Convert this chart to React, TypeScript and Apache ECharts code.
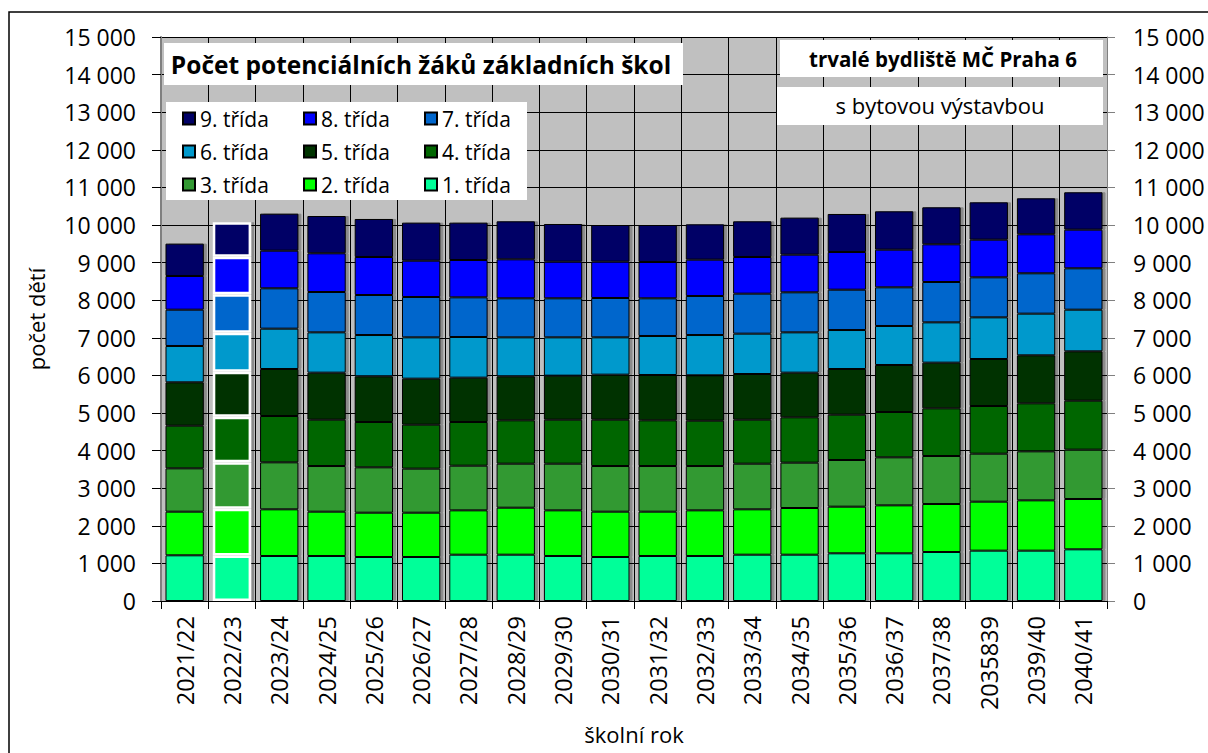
import React, { useEffect, useRef } from "react";
import * as echarts from "echarts";

const categories = [
  "2021/22", "2022/23", "2023/24", "2024/25", "2025/26", "2026/27", "2027/28",
  "2028/29", "2029/30", "2030/31", "2031/32", "2032/33", "2033/34", "2034/35",
  "2035/36", "2036/37", "2037/38", "2035839", "2039/40", "2040/41",
];

const trida1 = [1215, 1210, 1197, 1197, 1170, 1170, 1232, 1232, 1197, 1170, 1197, 1197, 1232, 1232, 1268, 1268, 1303, 1339, 1339, 1374];
const trida2 = [1161, 1241, 1241, 1179, 1179, 1179, 1179, 1250, 1214, 1206, 1179, 1214, 1206, 1241, 1241, 1276, 1277, 1303, 1338, 1339];
const trida3 = [1152, 1241, 1250, 1214, 1206, 1171, 1188, 1170, 1241, 1214, 1214, 1179, 1214, 1206, 1241, 1277, 1276, 1276, 1303, 1312];
const trida4 = [1135, 1205, 1232, 1233, 1206, 1170, 1162, 1153, 1171, 1233, 1215, 1206, 1171, 1206, 1206, 1206, 1268, 1268, 1277, 1303];
const trida5 = [1153, 1197, 1250, 1250, 1214, 1223, 1179, 1170, 1170, 1197, 1206, 1206, 1214, 1188, 1214, 1250, 1215, 1250, 1277, 1312];
const trida6 = [966, 1038, 1073, 1072, 1099, 1099, 1081, 1037, 1019, 992, 1037, 1072, 1073, 1072, 1037, 1037, 1072, 1108, 1108, 1108];
const trida7 = [966, 1028, 1073, 1073, 1064, 1073, 1055, 1038, 1038, 1047, 1002, 1038, 1064, 1064, 1073, 1028, 1073, 1064, 1073, 1100];
const trida8 = [896, 993, 1001, 1029, 1011, 966, 993, 1037, 975, 966, 966, 966, 975, 1002, 1002, 1002, 1002, 1002, 1037, 1028];
const trida9 = [860, 922, 984, 992, 1011, 1011, 993, 1011, 1002, 975, 984, 940, 949, 984, 1011, 1020, 984, 993, 958, 994];

const seriesNames = ["1. třída", "2. třída", "3. třída", "4. třída", "5. třída", "6. třída", "7. třída", "8. třída", "9. třída"];
const seriesValues = [trida1, trida2, trida3, trida4, trida5, trida6, trida7, trida8, trida9];
const seriesColors = ["#00FF99", "#00FF00", "#339933", "#006600", "#003300", "#0099CC", "#0066CC", "#0000FF", "#000066"];

const yTicks = { min: 0, max: 15000, interval: 1000 };
const highlightedIndex = 1;

const titleText = "Počet potenciálních žáků základních škol";
const boxText1 = "trvalé bydliště MČ Praha 6";
const boxText2 = "s bytovou výstavbou";
const yName = "počet dětí";
const xName = "školní rok";

const FONT = "'Open Sans', 'Noto Sans', sans-serif";

const fmt = (v: number) => {
  const s = String(v);
  return s.length > 3 ? s.slice(0, s.length - 3) + " " + s.slice(s.length - 3) : s;
};

export default function App() {
  const ref = useRef<HTMLDivElement>(null);
  useEffect(() => {
    document.body.style.margin = "0";
    const chart = echarts.init(ref.current!, undefined, { renderer: "svg" });
    const series = seriesNames.map((name, i) => ({
      name,
      type: "bar",
      stack: "total",
      barCategoryGap: "19%",
      z: 2,
      itemStyle: {
        color: seriesColors[i],
        borderColor: "#000",
        borderWidth: 1,
        shadowColor: "rgba(0,0,0,0.28)",
        shadowOffsetX: 3,
        shadowOffsetY: 0,
        shadowBlur: 1,
      },
      emphasis: { disabled: true },
      data: seriesValues[i].map((v, j) =>
        j === highlightedIndex
          ? { value: v, itemStyle: { borderColor: "#fff", borderWidth: 2.5 } }
          : v
      ),
    }));
    const legendCommon = {
      orient: "vertical",
      padding: 0,
      itemGap: 10,
      itemWidth: 12,
      itemHeight: 12,
      icon: "rect",
      selectedMode: false,
      z: 20,
      textStyle: { fontFamily: FONT, fontSize: 21, color: "#000", lineHeight: 23 },
    };
    const axisLabelStyle = { fontFamily: FONT, fontSize: 23, color: "#000" };
    chart.setOption({
      animation: false,
      backgroundColor: "#fff",
      grid: {
        left: 161, right: 101, top: 37, bottom: 152,
        show: true, backgroundColor: "#C0C0C0", borderWidth: 0,
        containLabel: false, outerBoundsMode: "none",
      },
      legend: [
        { ...legendCommon, left: 182, top: 107, data: ["9. třída", "6. třída", "3. třída"] },
        { ...legendCommon, left: 303, top: 107, data: ["8. třída", "5. třída", "2. třída"] },
        { ...legendCommon, left: 424, top: 107, data: ["7. třída", "4. třída", "1. třída"] },
      ],
      xAxis: {
        type: "category",
        data: categories,
        name: xName,
        nameLocation: "middle",
        nameGap: 122,
        nameTextStyle: { fontFamily: FONT, fontSize: 22, color: "#000" },
        axisLine: { lineStyle: { color: "#000", width: 1 } },
        axisTick: { show: true, length: 8, lineStyle: { color: "#000" } },
        axisLabel: { ...axisLabelStyle, fontSize: 23.5, rotate: 90, margin: 15, interval: 0 },
        splitLine: { show: true, interval: 0, lineStyle: { color: "#000", width: 1 } },
      },
      yAxis: [
        {
          type: "value",
          ...yTicks,
          name: yName,
          nameLocation: "middle",
          nameGap: 114,
          nameTextStyle: { fontFamily: FONT, fontSize: 22, color: "#000" },
          axisLine: { show: true, lineStyle: { color: "#808080", width: 2 } },
          axisTick: { show: true, length: 9, lineStyle: { color: "#000" } },
          axisLabel: { ...axisLabelStyle, margin: 25, formatter: fmt },
          splitLine: { show: true, lineStyle: { color: "#000", width: 1 } },
        },
        {
          type: "value",
          position: "right",
          ...yTicks,
          axisLine: { show: true, lineStyle: { color: "#808080", width: 1 } },
          axisTick: { show: true, length: 8, lineStyle: { color: "#808080" } },
          axisLabel: { ...axisLabelStyle, margin: 26, formatter: fmt },
          splitLine: { show: false },
        },
      ],
      series,
      graphic: [
        {
          type: "rect",
          shape: { x: 9, y: 12, width: 1400, height: 900 },
          style: { fill: "none", stroke: "#000", lineWidth: 1.5 },
          z: 100,
          silent: true,
        },
        {
          type: "rect",
          shape: { x: 164, y: 43, width: 519, height: 42 },
          style: { fill: "#fff" },
          z: 5,
        },
        {
          type: "text",
          x: 421,
          y: 64,
          style: { text: titleText, fontFamily: FONT, fontSize: 24.5, fontWeight: "bold", fill: "#000", align: "center", verticalAlign: "middle" },
          z: 6,
        },
        {
          type: "rect",
          shape: { x: 166, y: 102, width: 361, height: 98 },
          style: { fill: "#fff" },
          z: 5,
        },
        {
          type: "rect",
          shape: { x: 780, y: 40, width: 323, height: 37 },
          style: { fill: "#fff" },
          z: 5,
        },
        {
          type: "text",
          x: 943,
          y: 59,
          style: { text: boxText1, fontFamily: FONT, fontSize: 20.5, fontWeight: "bold", fill: "#000", align: "center", verticalAlign: "middle" },
          z: 6,
        },
        {
          type: "rect",
          shape: { x: 777, y: 87, width: 326, height: 38 },
          style: { fill: "#fff" },
          z: 5,
        },
        {
          type: "text",
          x: 940,
          y: 105,
          style: { text: boxText2, fontFamily: FONT, fontSize: 22, fill: "#000", align: "center", verticalAlign: "middle" },
          z: 6,
        },
      ],
    });
    return () => chart.dispose();
  }, []);
  return <div ref={ref} style={{ width: 1208, height: 753 }} />;
}
